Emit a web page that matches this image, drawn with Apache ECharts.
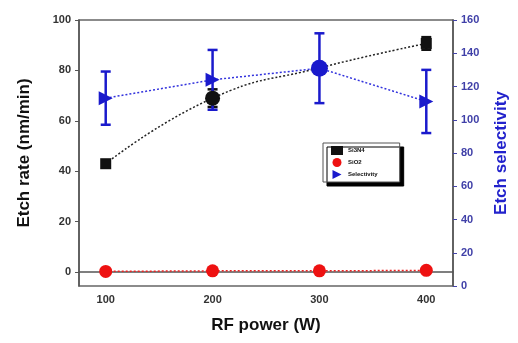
<!DOCTYPE html>
<html><head><meta charset="utf-8">
<script src="https://cdn.jsdelivr.net/npm/echarts@6/dist/echarts.min.js"></script>
<style>html,body{margin:0;padding:0;background:#fff}#c{width:518px;height:343px}</style>
</head><body><div id="c"></div>
<script>
const power = [100, 200, 300, 400];
const si3n4 = [43, 69, 81, 90.7];
const si3n4Err = [0, 3.5, 0, 2.5];
const sio2 = [0.3, 0.5, 0.5, 0.7];
const selectivity = [113, 124, 131, 111];
const selectivityErr = [16, 18, 21, 19];
const xTicks = [100, 200, 300, 400];
const leftTicks = [0, 20, 40, 60, 80, 100];
const rightTicks = [0, 20, 40, 60, 80, 100, 120, 140, 160];
const names = ['Si3N4', 'SiO2', 'Selectivity'];

const chart = echarts.init(document.getElementById('c'));
const tri = 'path://M0,0L10,5L0,10Z';
function errSeries(vals, errs, yIdx, color, capW) {
  return {
    type: 'custom', yAxisIndex: yIdx, z: 1, silent: true,
    data: power.map((p, i) => [p, vals[i] - errs[i], vals[i] + errs[i]]).filter((d, i) => errs[i] > 0),
    renderItem: function (params, api) {
      const lo = api.coord([api.value(0), api.value(1)]);
      const hi = api.coord([api.value(0), api.value(2)]);
      const st = { stroke: color, lineWidth: 2.5 };
      return { type: 'group', children: [
        { type: 'line', shape: { x1: lo[0], y1: lo[1], x2: hi[0], y2: hi[1] }, style: st },
        { type: 'line', shape: { x1: lo[0] - capW, y1: lo[1], x2: lo[0] + capW, y2: lo[1] }, style: st },
        { type: 'line', shape: { x1: hi[0] - capW, y1: hi[1], x2: hi[0] + capW, y2: hi[1] }, style: st }
      ]};
    }
  };
}
const font = 'Liberation Sans, Arial, sans-serif';
chart.setOption({
  animation: false,
  grid: { left: 79, right: 65, top: 20, bottom: 57, show: true, borderColor: '#666', borderWidth: 1.5 },
  legend: {
    data: [
      { name: names[0], icon: 'rect' },
      { name: names[1], icon: 'circle' },
      { name: names[2], icon: tri }
    ],
    orient: 'vertical', left: 323, top: 143, itemWidth: 12, itemHeight: 9, itemGap: 3,
    padding: [3, 22, 3, 8], borderColor: '#555', borderWidth: 1, backgroundColor: '#fff',
    shadowColor: '#000', shadowOffsetX: 4, shadowOffsetY: 4, shadowBlur: 0,
    textStyle: { fontSize: 6, fontWeight: 'bold', fontFamily: font, color: '#111' }
  },
  xAxis: {
    type: 'value', min: 75, max: 425,
    name: 'RF power (W)', nameLocation: 'middle', nameGap: 31,
    nameTextStyle: { fontSize: 17, fontWeight: 'bold', fontFamily: font, color: '#111' },
    axisLine: { show: true, lineStyle: { color: '#555', width: 1.5 } },
    axisTick: { show: true, inside: false, length: 4, customValues: xTicks, lineStyle: { color: '#555' } },
    axisLabel: { customValues: xTicks, fontSize: 11, fontWeight: 'bold', fontFamily: font, color: '#333', margin: 8 },
    splitLine: { show: false }
  },
  yAxis: [{
    type: 'value', min: -5.5, max: 100, position: 'left',
    name: 'Etch rate (nm/min)', nameLocation: 'middle', nameGap: 46, nameRotate: 90,
    nameTextStyle: { fontSize: 17, fontWeight: 'bold', fontFamily: font, color: '#111' },
    axisLine: { show: true, lineStyle: { color: '#555', width: 1.5 } },
    axisTick: { show: true, length: 4, customValues: leftTicks, lineStyle: { color: '#555' } },
    axisLabel: { customValues: leftTicks, fontSize: 11, fontWeight: 'bold', fontFamily: font, color: '#333', margin: 8 },
    splitLine: { show: false }
  }, {
    type: 'value', min: 0, max: 160, position: 'right',
    name: 'Etch selectivity', nameLocation: 'middle', nameGap: 40, nameRotate: 90,
    nameTextStyle: { fontSize: 17, fontWeight: 'bold', fontFamily: font, color: '#2222cc' },
    axisLine: { show: true, lineStyle: { color: '#555', width: 1.5 } },
    axisTick: { show: true, length: 4, customValues: rightTicks, lineStyle: { color: '#4444aa' } },
    axisLabel: { customValues: rightTicks, fontSize: 11, fontWeight: 'bold', fontFamily: font, color: '#4040a8', margin: 8 },
    splitLine: { show: false }
  }],
  series: [
    errSeries(si3n4, si3n4Err, 0, '#111', 5),
    errSeries(selectivity, selectivityErr, 1, '#1a1acc', 5),
    {
      name: names[0], type: 'line', yAxisIndex: 0, smooth: true, z: 3,
      data: power.map((p, i) => ({ value: [p, si3n4[i]], symbol: i === 1 ? 'circle' : 'rect', symbolSize: i === 1 ? 15 : 11 })),
      itemStyle: { color: '#111' },
      lineStyle: { color: '#222', width: 1.5, type: [2, 2] }
    },
    {
      name: names[1], type: 'line', yAxisIndex: 0, symbol: 'circle', symbolSize: 13, z: 3,
      data: power.map((p, i) => [p, sio2[i]]),
      itemStyle: { color: '#ee1111' },
      lineStyle: { color: '#ee2222', width: 1.5, type: [2, 2] }
    },
    {
      name: names[2], type: 'line', yAxisIndex: 1, z: 4,
      data: power.map((p, i) => ({ value: [p, selectivity[i]], symbol: i === 2 ? 'circle' : tri, symbolSize: i === 2 ? 17 : 14 })),
      itemStyle: { color: '#1a1acc' },
      lineStyle: { color: '#3333dd', width: 1.5, type: [2, 2] }
    }
  ]
});
</script></body></html>
